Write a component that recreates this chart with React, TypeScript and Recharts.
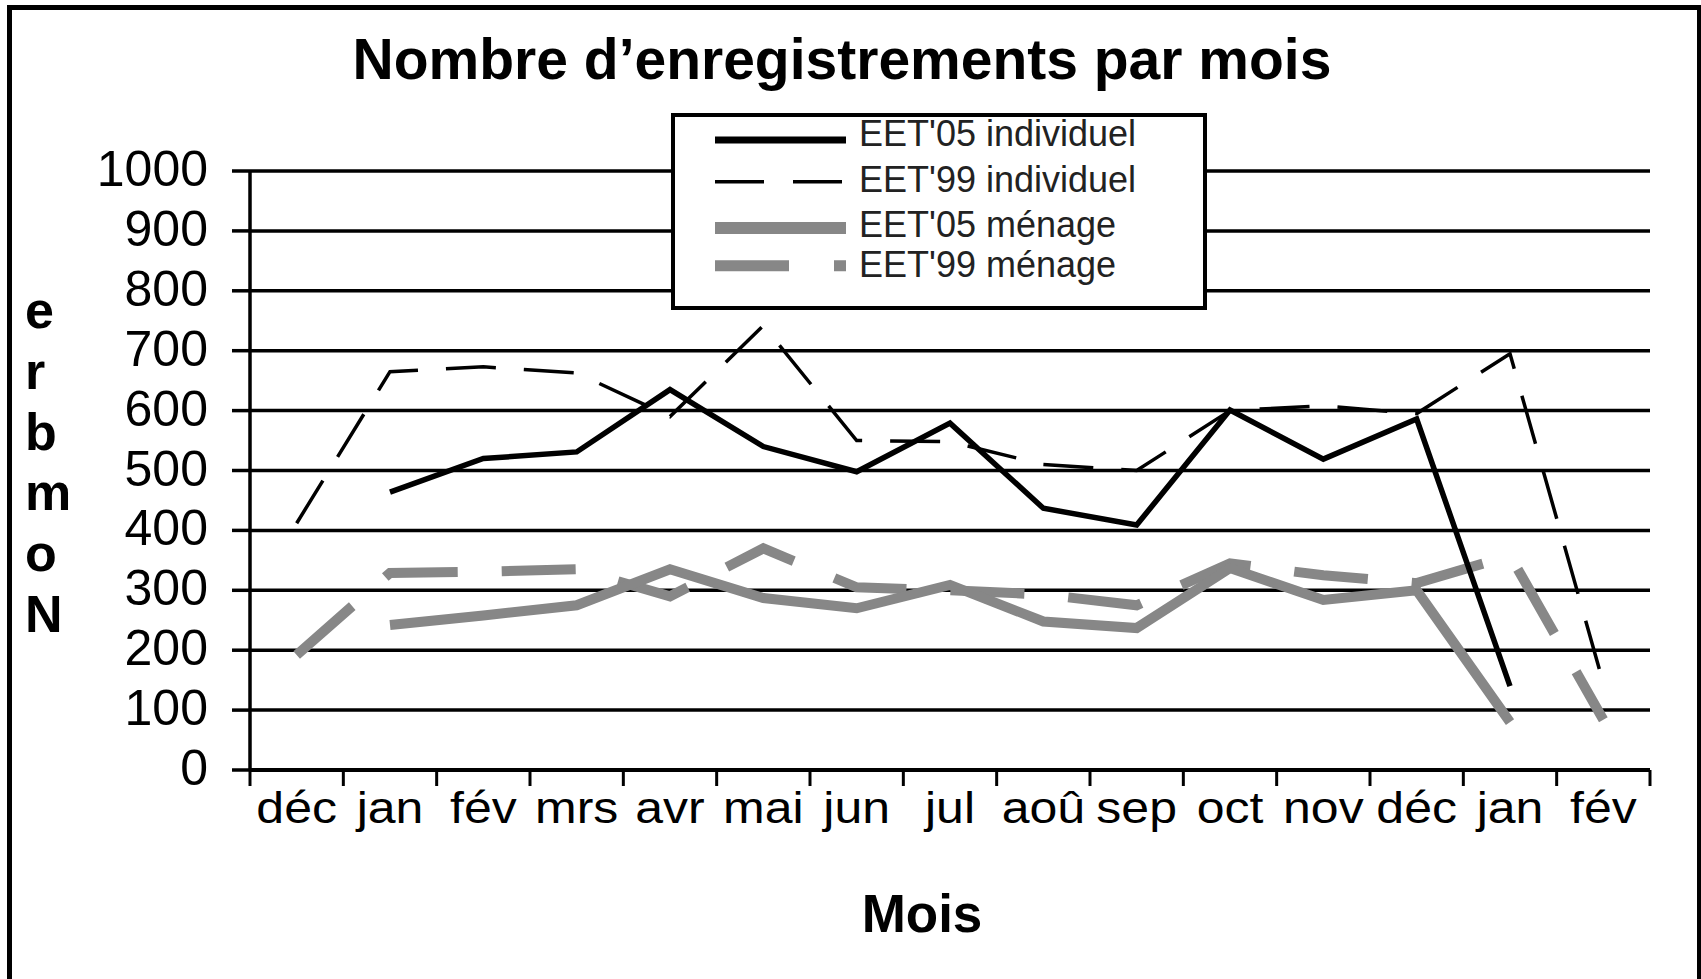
import React from 'react';
import { LineChart, Line, XAxis, YAxis, CartesianGrid, Legend } from 'recharts';

// ---------- data ----------
const categories = ['déc', 'jan', 'fév', 'mrs', 'avr', 'mai', 'jun', 'jul', 'aoû', 'sep', 'oct', 'nov', 'déc', 'jan', 'fév'];
const eet05Individuel = [null, 464, 520, 531, 635, 540, 498, 579, 437, 409, 601, 519, 586, 140, null];
const eet99Individuel = [412, 665, 673, 663, 590, 742, 550, 548, 510, 500, 600, 608, 595, 695, 145];
const eet05Menage = [null, 242, 258, 275, 335, 287, 270, 309, 248, 237, 337, 284, 300, 80, null];
const eet99Menage = [192, 329, 331, 335, 290, 370, 305, 300, 293, 275, 345, 325, 312, 358, 84];
const yTicks = [0, 100, 200, 300, 400, 500, 600, 700, 800, 900, 1000];
const seriesNames = ["EET'05 individuel", "EET'99 individuel", "EET'05 ménage", "EET'99 ménage"];
const titleText = 'Nombre d’enregistrements par mois';
const yTitle = 'Nombre';
const xTitle = 'Mois';

const data = categories.map((mois, i) => ({
  mois,
  e05i: eet05Individuel[i],
  e99i: eet99Individuel[i],
  e05m: eet05Menage[i],
  e99m: eet99Menage[i],
}));

// ---------- styles ----------
const FONT = "'Liberation Sans', Arial, Helvetica, sans-serif";
const GRAY = '#878787';
const W = 1701;
const H = 979;
const M = { top: 171, right: 51, bottom: 129, left: 0 };
const Y_AXIS_W = 250;
const X_AXIS_H = 80;
const PLOT_W = W - M.left - M.right - Y_AXIS_W;
const BAND = PLOT_W / categories.length;

const seriesStyle = [
  { key: 'e05i', stroke: '#000', width: 5.5, dash: undefined as string | undefined, legendDash: undefined as string | undefined, lw: 7 },
  { key: 'e99i', stroke: '#000', width: 3.5, dash: '50 28', legendDash: '49 29', lw: 3.5 },
  { key: 'e05m', stroke: GRAY, width: 10, dash: undefined as string | undefined, legendDash: undefined as string | undefined, lw: 12 },
  { key: 'e99m', stroke: GRAY, width: 10, dash: '74 44', legendDash: '74 45', lw: 11 },
];
const drawOrder = [3, 2, 1, 0];

const XTick = (props: any) => {
  const { x, y, payload, index } = props;
  const left = x - BAND / 2;
  const isLast = index === categories.length - 1;
  return (
    <g>
      <line x1={left} y1={y} x2={left} y2={y + 16} stroke="#000" strokeWidth={3} />
      {isLast && <line x1={x + BAND / 2} y1={y} x2={x + BAND / 2} y2={y + 16} stroke="#000" strokeWidth={3} />}
      <text
        transform={`translate(${x},${y + 53}) scale(1,0.88)`}
        textAnchor="middle"
        fontSize={50}
        fontFamily={FONT}
        fill="#000"
      >
        {payload.value}
      </text>
    </g>
  );
};

const YTick = (props: any) => {
  const { x, y, payload } = props;
  return (
    <text x={x} y={y + 15} textAnchor="end" fontSize={50} fontFamily={FONT} fill="#000">
      {payload.value}
    </text>
  );
};

const LegendBox = () => {
  const rowsLineY = [27, 68.7, 115, 152.7];
  const rowsTextY = [33, 79, 124, 164];
  return (
    <svg width={536} height={197} style={{ display: 'block' }}>
      <rect x={2} y={2} width={532} height={193} fill="#fff" stroke="#000" strokeWidth={4} />
      {seriesStyle.map((s, i) => (
        <g key={s.key}>
          <line
            x1={44}
            x2={175}
            y1={rowsLineY[i]}
            y2={rowsLineY[i]}
            stroke={s.stroke}
            strokeWidth={s.lw}
            strokeDasharray={s.legendDash}
          />
          <text x={188} y={rowsTextY[i]} fontSize={36} fontFamily={FONT} fill="#222">
            {seriesNames[i]}
          </text>
        </g>
      ))}
    </svg>
  );
};

export default function App() {
  return (
    <div style={{ position: 'absolute', left: 0, top: 0, width: W, height: H, background: '#fff', overflow: 'hidden' }}>
      <div style={{ position: 'absolute', left: 0, top: 0 }}>
        <LineChart width={W} height={H} data={data} margin={M}>
          <CartesianGrid horizontal vertical={false} stroke="#000" strokeWidth={3.5} />
          <XAxis
            dataKey="mois"
            height={X_AXIS_H}
            interval={0}
            padding={{ left: BAND / 2, right: BAND / 2 }}
            tickSize={0}
            tickMargin={0}
            tickLine={false}
            axisLine={{ stroke: '#000', strokeWidth: 4 }}
            tick={(p: any) => <XTick {...p} />}
            label={{
              content: () => (
                <text x={922} y={932} textAnchor="middle" fontSize={53} fontWeight="bold" fontFamily={FONT} fill="#000">
                  {xTitle}
                </text>
              ),
            }}
          />
          <YAxis
            width={Y_AXIS_W}
            domain={[0, 1000]}
            ticks={yTicks}
            interval={0}
            tickSize={18}
            tickMargin={24}
            tickLine={{ stroke: '#000', strokeWidth: 3.5 }}
            axisLine={{ stroke: '#000', strokeWidth: 3.5 }}
            tick={(p: any) => <YTick {...p} />}
            label={{
              content: () => (
                <text fontSize={52} fontWeight="bold" fontFamily={FONT} fill="#000">
                  {yTitle
                    .split('')
                    .reverse()
                    .map((ch, i) => (
                      <tspan key={i} x={25} y={328 + 60.8 * i}>
                        {ch}
                      </tspan>
                    ))}
                </text>
              ),
            }}
          />
          <YAxis
            yAxisId="right"
            orientation="right"
            width={0}
            domain={[0, 1000]}
            tick={false}
            tickLine={false}
            axisLine={{ stroke: '#808080', strokeWidth: 3 }}
          />
          {drawOrder.map((i) => {
            const s = seriesStyle[i];
            return (
              <Line
                key={s.key}
                type="linear"
                dataKey={s.key}
                name={seriesNames[i]}
                stroke={s.stroke}
                strokeWidth={s.width}
                strokeDasharray={s.dash}
                dot={false}
                activeDot={false}
                connectNulls={false}
                isAnimationActive={false}
              />
            );
          })}
          <Legend
            layout="vertical"
            align="center"
            verticalAlign="middle"
            wrapperStyle={{ left: 671, top: 113, width: 536, height: 197 }}
            content={() => <LegendBox />}
          />
        </LineChart>
      </div>
      <svg width={W} height={H} style={{ position: 'absolute', left: 0, top: 0, pointerEvents: 'none' }}>
        <text x={842} y={79} textAnchor="middle" fontSize={57} fontWeight="bold" fontFamily={FONT} fill="#000">
          {titleText}
        </text>
      </svg>
      <div
        style={{
          position: 'absolute',
          left: 7,
          top: 5,
          width: 1694,
          height: 974,
          boxSizing: 'border-box',
          borderLeft: '5px solid #000',
          borderTop: '5px solid #000',
          borderRight: '4px solid #000',
          pointerEvents: 'none',
        }}
      />
    </div>
  );
}
